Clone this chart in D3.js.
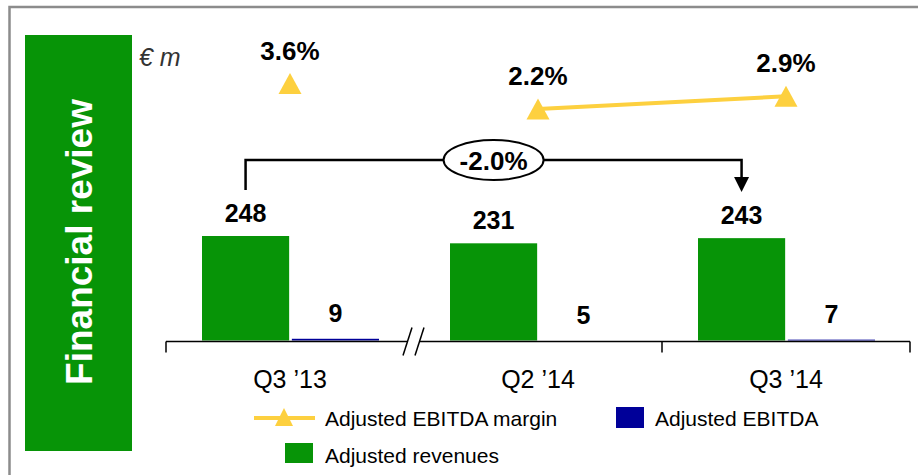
<!DOCTYPE html>
<html lang="en">
<head>
    <meta charset="UTF-8">
    <title>Financial review</title>
    <script src="https://d3js.org/d3.v7.min.js"></script>
    <style>
        body {
            margin: 0;
            padding: 0;
            background: white;
            overflow: hidden;
        }
        svg text {
            font-family: Arial, "Liberation Sans", sans-serif;
        }
        .bold-label {
            font-weight: bold;
            fill: #000;
        }
    </style>
</head>
<body>
    <div id="chart"></div>

    <script>
        // Data
        const categories = ["Q3 \u201913", "Q2 \u201914", "Q3 \u201914"];
        const revenues = [248, 231, 243];
        const ebitda = [9, 5, 7];
        const margins = [3.6, 2.2, 2.9];
        const marginLabels = ["3.6%", "2.2%", "2.9%"];
        const revenueChange = "-2.0%";
        const seriesNames = ["Adjusted revenues", "Adjusted EBITDA"];
        const legendItems = ["Adjusted EBITDA margin", "Adjusted EBITDA", "Adjusted revenues"];

        const width = 918, height = 475;
        const green = "#079407", navy = "#000099", yellow = "#fdd03f";

        const svg = d3.select("#chart").append("svg")
            .attr("width", width)
            .attr("height", height);

        // frame and side panel
        svg.append("rect")
            .attr("x", 9.5).attr("y", 7)
            .attr("width", 1000).attr("height", 1000)
            .attr("fill", "none")
            .attr("stroke", "#8c8c8c")
            .attr("stroke-width", 2.5);

        svg.append("rect")
            .attr("x", 25).attr("y", 35)
            .attr("width", 107).attr("height", 416)
            .attr("fill", green);

        svg.append("text")
            .attr("transform", "translate(92,242) rotate(-90)")
            .attr("text-anchor", "middle")
            .attr("fill", "white")
            .attr("font-weight", "bold")
            .attr("font-size", 37)
            .text("Financial review");

        svg.append("text")
            .attr("x", 139).attr("y", 66)
            .attr("font-size", 25)
            .attr("font-style", "italic")
            .attr("fill", "#333")
            .text("\u20ac m");

        // scales
        const x = d3.scaleBand()
            .domain(categories)
            .range([166, 910]);

        const xSeries = d3.scaleBand()
            .domain(seriesNames)
            .range([36, 213])
            .paddingInner(0.03);

        // baseline sits a little above zero, as in the source slide
        const y = d3.scaleLinear()
            .domain([5, 248])
            .range([340.5, 236]);

        const yMargin = d3.scaleLinear()
            .domain([2.2, 3.6])
            .range([109, 83.5]);

        const cx = c => x(c) + x.bandwidth() / 2;
        const barH = v => Math.max(0, y.range()[0] - y(v));

        // bars
        const g = svg.append("g");
        const rows = categories.map((c, i) => ({ c, rev: revenues[i], eb: ebitda[i], m: margins[i], ml: marginLabels[i] }));

        g.selectAll(".rev")
            .data(rows)
            .join("rect")
            .attr("class", "rev")
            .attr("x", d => x(d.c) + xSeries(seriesNames[0]))
            .attr("y", d => y(d.rev))
            .attr("width", xSeries.bandwidth())
            .attr("height", d => barH(d.rev))
            .attr("fill", green);

        g.selectAll(".eb")
            .data(rows)
            .join("rect")
            .attr("class", "eb")
            .attr("x", d => x(d.c) + xSeries(seriesNames[1]))
            .attr("y", d => y(d.eb))
            .attr("width", xSeries.bandwidth())
            .attr("height", d => barH(d.eb))
            .attr("fill", navy);

        g.selectAll(".rev-label")
            .data(rows)
            .join("text")
            .attr("class", "bold-label")
            .attr("x", d => x(d.c) + xSeries(seriesNames[0]) + xSeries.bandwidth() / 2)
            .attr("y", d => y(d.rev) - 14)
            .attr("text-anchor", "middle")
            .attr("font-size", 25)
            .text(d => d.rev);

        g.selectAll(".eb-label")
            .data(rows)
            .join("text")
            .attr("class", "bold-label")
            .attr("x", d => x(d.c) + xSeries(seriesNames[1]) + xSeries.bandwidth() / 2)
            .attr("y", d => y(d.eb) - 17)
            .attr("text-anchor", "middle")
            .attr("font-size", 25)
            .text(d => d.eb);

        // x axis with a break between the first and second quarter
        const axisY = 341.5;
        const breakX = x(categories[1]);
        const axisG = svg.append("g").attr("stroke", "#000").attr("stroke-width", 1.5).attr("fill", "none");
        axisG.append("line").attr("x1", x.range()[0]).attr("x2", breakX - 7).attr("y1", axisY).attr("y2", axisY);
        axisG.append("line").attr("x1", breakX + 5).attr("x2", x.range()[1]).attr("y1", axisY).attr("y2", axisY);
        [breakX - 11, breakX + 1].forEach(bx => {
            axisG.append("line")
                .attr("x1", bx).attr("y1", axisY + 14)
                .attr("x2", bx + 9).attr("y2", axisY - 14);
        });
        [x.range()[0], x(categories[2]), x.range()[1]].forEach(tx => {
            axisG.append("line").attr("x1", tx).attr("x2", tx).attr("y1", axisY).attr("y2", axisY + 11);
        });

        const xAxis = svg.append("g")
            .attr("transform", `translate(0,${axisY})`)
            .call(d3.axisBottom(x).tickSize(0));
        xAxis.select(".domain").remove();
        xAxis.selectAll("text")
            .attr("dy", null)
            .attr("y", 46.5)
            .attr("font-size", 25)
            .attr("fill", "#000");

        // EBITDA margin markers and line (line only after the break)
        const trianglePath = (px, py, w, h) =>
            `M${px},${py - h / 2}L${px + w / 2},${py + h / 2}L${px - w / 2},${py + h / 2}Z`;

        const marginLine = d3.line()
            .x(d => cx(d.c))
            .y(d => yMargin(d.m));

        svg.append("path")
            .datum(rows.slice(1))
            .attr("d", marginLine)
            .attr("fill", "none")
            .attr("stroke", yellow)
            .attr("stroke-width", 4);

        svg.selectAll(".tri")
            .data(rows)
            .join("path")
            .attr("class", "tri")
            .attr("d", d => trianglePath(cx(d.c), yMargin(d.m), 23, 21))
            .attr("fill", yellow);

        svg.selectAll(".m-label")
            .data(rows)
            .join("text")
            .attr("class", "bold-label")
            .attr("x", d => cx(d.c))
            .attr("y", d => yMargin(d.m) - 24)
            .attr("text-anchor", "middle")
            .attr("font-size", 26)
            .text(d => d.ml);

        // revenue change bracket
        const first = rows[0], last = rows[rows.length - 1];
        const bx1 = x(first.c) + xSeries(seriesNames[0]) + xSeries.bandwidth() / 2;
        const bx2 = x(last.c) + xSeries(seriesNames[0]) + xSeries.bandwidth() / 2;
        const by = y(first.rev) - 76;
        const ex = (bx1 + bx2) / 2, rx = 50, ry = 20;
        const bracket = svg.append("g").attr("stroke", "#000").attr("stroke-width", 2.5).attr("fill", "none");
        bracket.append("path")
            .attr("d", `M${bx1},${by + 30}V${by}H${ex - rx}`);
        bracket.append("path")
            .attr("d", `M${ex + rx},${by}H${bx2}V${by + 17}`);
        svg.append("path")
            .attr("d", `M${bx2 - 7.5},${by + 17}L${bx2 + 7.5},${by + 17}L${bx2},${by + 32}Z`)
            .attr("fill", "#000");
        svg.append("ellipse")
            .attr("cx", ex).attr("cy", by)
            .attr("rx", rx).attr("ry", ry)
            .attr("fill", "white")
            .attr("stroke", "#000")
            .attr("stroke-width", 2);
        svg.append("text")
            .attr("class", "bold-label")
            .attr("x", ex).attr("y", by + 9.5)
            .attr("text-anchor", "middle")
            .attr("font-size", 26)
            .text(revenueChange);

        // legend
        const legend = svg.append("g");
        legend.append("line")
            .attr("x1", 254).attr("x2", 315).attr("y1", 418).attr("y2", 418)
            .attr("stroke", yellow).attr("stroke-width", 4);
        legend.append("path")
            .attr("d", trianglePath(284, 417, 18, 18))
            .attr("fill", yellow);
        legend.append("text").attr("x", 325).attr("y", 426).attr("font-size", 21).text(legendItems[0]);

        legend.append("rect").attr("x", 616).attr("y", 407).attr("width", 28).attr("height", 21).attr("fill", navy);
        legend.append("text").attr("x", 655).attr("y", 426).attr("font-size", 21).text(legendItems[1]);

        legend.append("rect").attr("x", 285).attr("y", 443).attr("width", 28).attr("height", 20).attr("fill", green);
        legend.append("text").attr("x", 325).attr("y", 463).attr("font-size", 21).text(legendItems[2]);
    </script>
</body>
</html>
